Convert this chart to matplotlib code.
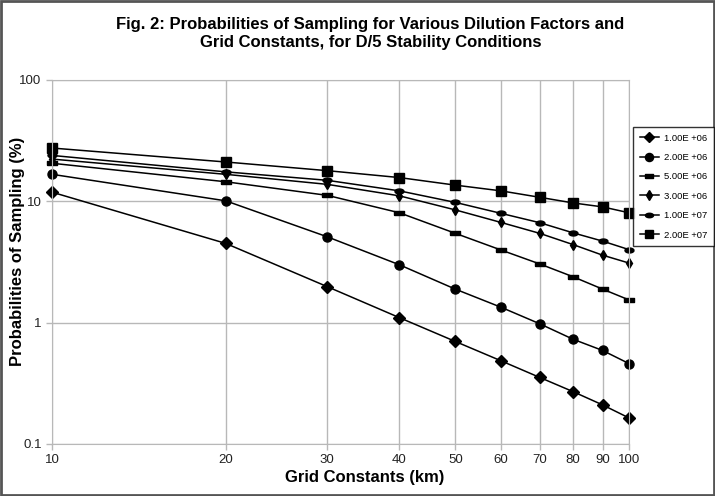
import numpy as np
import matplotlib.pyplot as plt
from matplotlib.patches import Rectangle
from matplotlib.ticker import FixedLocator, NullLocator, FixedFormatter

plt.rcParams['font.family'] = ['Liberation Sans', 'DejaVu Sans']

# Data
grid_km = [10, 20, 30, 40, 50, 60, 70, 80, 90, 100]

p_1e6 = [11.9, 4.5, 1.98, 1.1, 0.70, 0.485, 0.354, 0.27, 0.21, 0.164]
p_2e6 = [16.7, 10.1, 5.1, 3.0, 1.89, 1.34, 0.98, 0.73, 0.59, 0.46]
p_5e6 = [20.6, 14.5, 11.2, 8.05, 5.45, 3.97, 3.05, 2.39, 1.89, 1.54]
p_3e6 = [22.3, 16.7, 13.8, 11.1, 8.5, 6.7, 5.45, 4.4, 3.6, 3.1]
p_1e7 = [23.9, 17.5, 14.9, 12.2, 9.8, 7.96, 6.67, 5.5, 4.7, 4.0]
p_2e7 = [27.5, 21.1, 17.9, 15.7, 13.6, 12.2, 10.8, 9.7, 9.0, 8.05]

labels = ["1.00E +06", "2.00E +06", "5.00E +06", "3.00E +06", "1.00E +07", "2.00E +07"]
y_ticks = [0.1, 1, 10, 100]
y_tick_labels = ["0.1", "1", "10", "100"]

# custom marker shapes
rect_marker = [(-1, -0.4), (1, -0.4), (1, 0.4), (-1, 0.4), (-1, -0.4)]
t = np.linspace(0, 2 * np.pi, 30)
ellipse_marker = list(zip(np.cos(t), 0.55 * np.sin(t)))

styles = [
    dict(marker="D", ms=6),
    dict(marker="o", ms=6.5),
    dict(marker=rect_marker, ms=7),
    dict(marker="d", ms=5.5),
    dict(marker=ellipse_marker, ms=6.5),
    dict(marker="s", ms=7),
]
series = [p_1e6, p_2e6, p_5e6, p_3e6, p_1e7, p_2e7]

fig = plt.figure(figsize=(7.15, 4.96), dpi=100)
ax = fig.add_axes([52 / 715, 1 - 444 / 496, (629 - 52) / 715, (444 - 80) / 496])

lines = []
for vals, lab, st in zip(series, labels, styles):
    ln, = ax.plot(grid_km, vals, color="black", lw=1.1, mfc="black", mec="black",
                  label=lab, clip_on=False, **st)
    lines.append(ln)

ax.set_xscale("log")
ax.set_yscale("log")
ax.set_xlim(10, 100)
ax.set_ylim(0.1, 100)

ax.xaxis.set_major_locator(FixedLocator(grid_km))
ax.xaxis.set_major_formatter(FixedFormatter([str(v) for v in grid_km]))
ax.xaxis.set_minor_locator(NullLocator())
ax.yaxis.set_major_locator(FixedLocator(y_ticks))
ax.yaxis.set_major_formatter(FixedFormatter(y_tick_labels))
ax.yaxis.set_minor_locator(NullLocator())

ax.grid(True, color="#b8b8b8", lw=1.0)
ax.set_axisbelow(True)
for sp in ax.spines.values():
    sp.set_color("#b8b8b8")
ax.tick_params(axis="both", labelsize=9.5, colors="#b8b8b8", labelcolor="#222222", length=4, width=1)

ax.set_xlabel("Grid Constants (km)", fontsize=12, fontweight="bold")
ax.set_ylabel("Probabilities of Sampling (%)", fontsize=12, fontweight="bold")
ax.xaxis.set_label_coords(0.5425, -0.072)
ax.yaxis.set_label_coords(-0.046, 0.53)

fig.text(0.518, 0.965, "Fig. 2: Probabilities of Sampling for Various Dilution Factors and\n"
         "Grid Constants, for D/5 Stability Conditions",
         ha="center", va="top", fontsize=12, fontweight="bold", linespacing=1.25)

leg = fig.legend(handles=lines, loc="upper left", bbox_to_anchor=(633 / 715, 1 - 127 / 496),
                 fontsize=6.8, frameon=True, fancybox=False, edgecolor="black",
                 handlelength=2.0, labelspacing=1.1, borderpad=0.7, handletextpad=0.6,
                 borderaxespad=0)
leg.get_frame().set_linewidth(1.0)
for h in leg.legend_handles:
    h.set_markersize(h.get_markersize() * 0.9)

# outer figure border
fig.patches.append(Rectangle((0.002, 0.003), 0.996, 0.994, transform=fig.transFigure,
                             fill=False, edgecolor="#555555", lw=2))

fig.savefig("out.png", dpi=100)
